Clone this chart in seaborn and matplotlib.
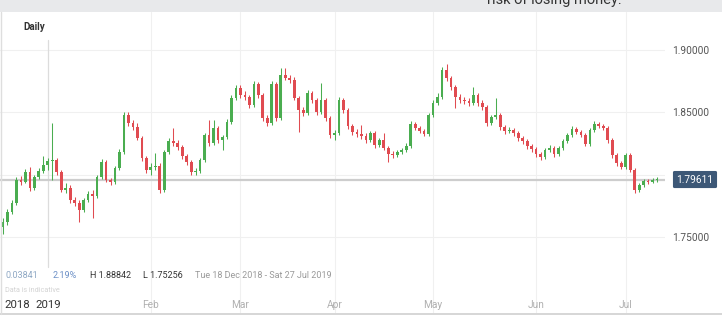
import numpy as np
import pandas as pd
import matplotlib
matplotlib.use("Agg")
import matplotlib.pyplot as plt
import matplotlib.transforms as mtransforms
from matplotlib.patches import Rectangle
from matplotlib.lines import Line2D
import seaborn as sns

# ---------------- data ----------------
start_date = "2018-12-18"
first_open = 1.7577
closes = [
    1.7620, 1.7704, 1.7776, 1.7960, 1.7944, 1.8024, 1.7896, 1.7984, 1.8032, 1.8080,
    1.8112, 1.8120, 1.8024, 1.7880, 1.7896, 1.7800, 1.7776, 1.7720, 1.7800, 1.7848,
    1.7832, 1.7984, 1.8104, 1.7960, 1.7944, 1.8056, 1.8184, 1.8480, 1.8416, 1.8384,
    1.8296, 1.8136, 1.8040, 1.8064, 1.8072, 1.7880, 1.8184, 1.8272, 1.8256, 1.8224,
    1.8152, 1.8104, 1.8024, 1.8032, 1.8120, 1.8320, 1.8256, 1.8376, 1.8280, 1.8304,
    1.8424, 1.8616, 1.8696, 1.8640, 1.8624, 1.8560, 1.8728, 1.8640, 1.8456, 1.8416,
    1.8728, 1.8456, 1.8800, 1.8776, 1.8760, 1.8616, 1.8520, 1.8496, 1.8656, 1.8600,
    1.8504, 1.8600, 1.8456, 1.8320, 1.8336, 1.8600, 1.8520, 1.8392, 1.8344, 1.8328,
    1.8312, 1.8280, 1.8336, 1.8240, 1.8280, 1.8216, 1.8168, 1.8160, 1.8184, 1.8200,
    1.8232, 1.8408, 1.8376, 1.8352, 1.8328, 1.8480, 1.8576, 1.8624, 1.8840, 1.8776,
    1.8704, 1.8624, 1.8600, 1.8592, 1.8576, 1.8640, 1.8576, 1.8544, 1.8416, 1.8464,
    1.8480, 1.8384, 1.8352, 1.8360, 1.8336, 1.8296, 1.8272, 1.8232, 1.8208, 1.8168,
    1.8144, 1.8200, 1.8216, 1.8168, 1.8216, 1.8272, 1.8320, 1.8368, 1.8344, 1.8320,
    1.8248, 1.8360, 1.8408, 1.8392, 1.8376, 1.8280, 1.8160, 1.8096, 1.8064, 1.8160,
    1.8040, 1.7880, 1.7920, 1.7952, 1.7944, 1.7960, 1.79611,
]
highs = [
    1.7650, 1.7728, 1.7800, 1.7984, 1.7990, 1.8048, 1.8060, 1.8000, 1.8056, 1.8152,
    1.8136, 1.8416, 1.8136, 1.8040, 1.7936, 1.7920, 1.7824, 1.7800, 1.7816, 1.7872,
    1.7880, 1.8000, 1.8128, 1.8120, 1.7976, 1.8072, 1.8208, 1.8504, 1.8504, 1.8440,
    1.8416, 1.8312, 1.8152, 1.8096, 1.8176, 1.8096, 1.8200, 1.8296, 1.8376, 1.8280,
    1.8240, 1.8168, 1.8120, 1.8056, 1.8136, 1.8336, 1.8440, 1.8440, 1.8392, 1.8320,
    1.8448, 1.8640, 1.8720, 1.8720, 1.8672, 1.8640, 1.8752, 1.8744, 1.8656, 1.8480,
    1.8752, 1.8744, 1.8856, 1.8856, 1.8800, 1.8784, 1.8632, 1.8544, 1.8680, 1.8672,
    1.8616, 1.8736, 1.8616, 1.8472, 1.8360, 1.8624, 1.8616, 1.8536, 1.8408, 1.8368,
    1.8400, 1.8336, 1.8352, 1.8352, 1.8296, 1.8336, 1.8232, 1.8192, 1.8200, 1.8216,
    1.8256, 1.8432, 1.8424, 1.8392, 1.8368, 1.8496, 1.8600, 1.8656, 1.8864, 1.88842,
    1.8792, 1.8720, 1.8648, 1.8624, 1.8616, 1.8704, 1.8656, 1.8600, 1.8560, 1.8480,
    1.8616, 1.8496, 1.8400, 1.8384, 1.8376, 1.8352, 1.8312, 1.8288, 1.8248, 1.8224,
    1.8184, 1.8216, 1.8240, 1.8232, 1.8232, 1.8288, 1.8336, 1.8392, 1.8384, 1.8360,
    1.8336, 1.8376, 1.8432, 1.8424, 1.8408, 1.8392, 1.8296, 1.8176, 1.8112, 1.8176,
    1.8176, 1.8056, 1.7936, 1.7968, 1.7968, 1.7976, 1.7984,
]
lows = [
    1.75256, 1.7600, 1.7688, 1.7760, 1.7920, 1.7930, 1.7872, 1.7880, 1.7968, 1.8016,
    1.8040, 1.7960, 1.8000, 1.7864, 1.7856, 1.7776, 1.7752, 1.7624, 1.7704, 1.7784,
    1.7656, 1.7816, 1.7968, 1.7944, 1.7920, 1.7928, 1.8040, 1.8168, 1.8392, 1.8360,
    1.8280, 1.8112, 1.8016, 1.8000, 1.8040, 1.7856, 1.7864, 1.8168, 1.8232, 1.8200,
    1.8128, 1.8080, 1.8000, 1.8000, 1.8016, 1.8104, 1.8232, 1.8240, 1.8256, 1.8200,
    1.8288, 1.8408, 1.8600, 1.8616, 1.8600, 1.8536, 1.8544, 1.8616, 1.8432, 1.8392,
    1.8400, 1.8432, 1.8440, 1.8760, 1.8736, 1.8600, 1.8344, 1.8472, 1.8480, 1.8576,
    1.8480, 1.8488, 1.8432, 1.8296, 1.8280, 1.8320, 1.8496, 1.8368, 1.8320, 1.8304,
    1.8288, 1.8256, 1.8264, 1.8216, 1.8224, 1.8200, 1.8104, 1.8136, 1.8144, 1.8168,
    1.8184, 1.8216, 1.8360, 1.8336, 1.8312, 1.8312, 1.8464, 1.8560, 1.8608, 1.8752,
    1.8680, 1.8536, 1.8576, 1.8568, 1.8552, 1.8560, 1.8552, 1.8520, 1.8392, 1.8400,
    1.8448, 1.8360, 1.8328, 1.8336, 1.8312, 1.8272, 1.8248, 1.8208, 1.8184, 1.8144,
    1.8120, 1.8128, 1.8184, 1.8144, 1.8152, 1.8200, 1.8256, 1.8304, 1.8328, 1.8304,
    1.8232, 1.8232, 1.8344, 1.8376, 1.8360, 1.8256, 1.8136, 1.8072, 1.8048, 1.8048,
    1.8024, 1.7856, 1.7864, 1.7904, 1.7928, 1.7936, 1.7944,
]
last_price = 1.79611
price_ticks = [1.75, 1.80, 1.85, 1.90]
# the 1.80000 label sits under the current-price box in the reference
price_tick_labels = ["1.75000", "", "1.85000", "1.90000"]
year_labels = ["2018", "2019"]
month_labels = ["Feb", "Mar", "Apr", "May", "Jun", "Jul"]
change_text = "0.03841"
change_pct_text = "2.19%"
high_text = "H 1.88842"
low_text = "L 1.75256"
range_text = "Tue 18 Dec 2018 - Sat 27 Jul 2019"
title_text = "Daily"
note_text = "Data is indicative"
banner_text = "risk of losing money."

# ---------------- table ----------------
dates = pd.bdate_range(start_date, periods=len(closes))
opens = [first_open] + closes[:-1]
df = pd.DataFrame({"date": dates, "open": opens, "high": highs,
                   "low": lows, "close": closes})
df["pos"] = np.arange(len(df))
df["up"] = df["close"] >= df["open"]
df["body_lo"] = df[["open", "close"]].min(axis=1)
df["body_h"] = (df["close"] - df["open"]).abs().clip(lower=0.0007)
month_first = df.groupby([df.date.dt.year, df.date.dt.month])["pos"].min().tolist()

# ---------------- style ----------------
sns.set_theme(style="white")
plt.rcParams["font.family"] = ["Roboto", "DejaVu Sans"]

W, H = 722, 316
fig = plt.figure(figsize=(W / 100, H / 100), dpi=100)
fig.patch.set_facecolor("white")

def fx(px):
    return px / W

def fy(py):
    return (H - py) / H

# grey banner at top
fig.patches.append(Rectangle((0, fy(12)), 1, 1 - fy(12), transform=fig.transFigure,
                             facecolor="#e8e9eb", edgecolor="none", zorder=0))
fig.text(fx(487), fy(4), banner_text, fontsize=10.5, color="#333333",
         va="baseline", ha="left")
# panel border lines
fig.lines.append(Line2D([0, 1], [fy(313.5)] * 2, transform=fig.transFigure,
                        color="#cfcfcf", lw=1.2))
fig.lines.append(Line2D([fx(0.5)] * 2, [fy(12), fy(313.5)], transform=fig.transFigure,
                        color="#dedede", lw=1.0))

ax = fig.add_axes([0, fy(313), fx(665), fy(12) - fy(313)])
ax.set_facecolor("none")
for s in ax.spines.values():
    s.set_visible(False)

px_per_unit = (237 - 50) / 0.15
y_top = 1.90 + (50 - 12) / px_per_unit
y_bot = 1.75 - (313 - 237) / px_per_unit
ax.set_ylim(y_bot, y_top)
step = 4.48
ax.set_xlim(-3 / step, (665 - 3) / step)

# grid
for p in price_ticks:
    ax.axhline(p, color="#f0f0f0", lw=0.8, zorder=0)
for m in month_first[2:]:
    ax.axvline(m, color="#f0f0f0", lw=0.8, zorder=0)
ax.plot([month_first[1]] * 2,
        [1.90 + (50 - 40) / px_per_unit, 1.75 - (267 - 237) / px_per_unit],
        color="#dcdcdc", lw=0.9, zorder=0)

# current price line
ax.axhline(last_price, color="#cdcdcd", lw=1.6, zorder=1)

# candles
green, red = "#4aad50", "#e04b51"
colors = np.where(df["up"], green, red)
ax.vlines(df["pos"], df["low"], df["high"], colors=colors, lw=0.75, zorder=2)
ax.bar(df["pos"], df["body_h"], bottom=df["body_lo"], width=0.6,
       color=colors, linewidth=0, zorder=3)

# y axis on right
ax.yaxis.tick_right()
ax.set_yticks(price_ticks, price_tick_labels)
ax.tick_params(axis="y", length=0, pad=5, labelsize=7.3, labelcolor="#555555")

# x axis labels inside the panel
xt = [3.1, month_first[1]] + month_first[2:]
ax.set_xticks(xt, year_labels + month_labels)
ax.tick_params(axis="x", length=0, pad=-9.5, labelsize=7.3, labelcolor="#b0b0b0")
for i, lab in enumerate(ax.get_xticklabels()):
    if i < 2:
        lab.set_color("#333333")
        lab.set_fontsize(8.2)

# price box
trans = mtransforms.blended_transform_factory(ax.transAxes, ax.transData)
ax.text(695 / 665, last_price, f"{last_price:.5f}", transform=trans,
        ha="center", va="center", fontsize=7.3, color="white", zorder=10,
        clip_on=False,
        bbox=dict(boxstyle="round,pad=0.35,rounding_size=0.15",
                  facecolor="#3d5877", edgecolor="none"))

# labels inside chart
fig.text(fx(23), fy(27), title_text, fontsize=7, fontweight="bold",
         color="#333333", va="center", ha="left")
fig.text(fx(5), fy(275), change_text, fontsize=6.5, color="#8fa8c4", va="center")
fig.text(fx(53), fy(275), change_pct_text, fontsize=6.5, color="#6b8fc6", va="center")
fig.text(fx(90), fy(275), high_text, fontsize=6.5, color="#333333", va="center")
fig.text(fx(143), fy(275), low_text, fontsize=6.5, color="#333333", va="center")
fig.text(fx(195), fy(275), range_text, fontsize=6.5, color="#9a9a9a", va="center")
fig.text(fx(5), fy(291), note_text, fontsize=5.2, color="#d3d3d3", va="center")

fig.savefig("out.png", dpi=100)
